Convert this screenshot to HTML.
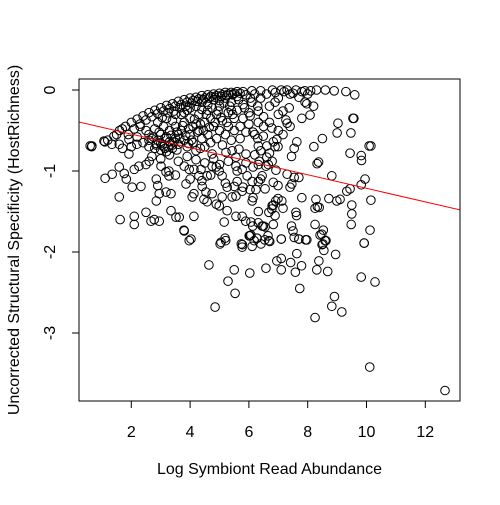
<!DOCTYPE html>
<html><head><meta charset="utf-8"><style>
body{margin:0;background:#fff}
svg{font-family:"Liberation Sans",sans-serif}
</style></head><body>
<svg id="chart" width="500" height="500">
<defs><clipPath id="clip"><rect x="79" y="79" width="381" height="322"/></clipPath></defs>
<rect x="0" y="0" width="500" height="500" fill="#fff"/>
<g id="points" clip-path="url(#clip)"></g>
<line id="fit" stroke="#ff0000" stroke-width="1" clip-path="url(#clip)"/>
<rect x="79" y="79" width="381" height="322" fill="none" stroke="#000"/>
<g id="xaxis"></g>
<g id="yaxis"></g>
<text x="269.5" y="474" text-anchor="middle" font-size="16">Log Symbiont Read Abundance</text>
<text transform="translate(19,240) rotate(-90)" text-anchor="middle" font-size="16">Uncorrected Structural Specificity (HostRichness)</text>
</svg>
<script>
const xTicks=[2,4,6,8,10,12];
const yTicks=[0,-1,-2,-3];
const fitIntercept=-0.377;
const fitSlope=-0.0837;
const ptsX=[0.6,0.65,1.1,1.2,1.5,1.6,1.8,2.0,2.2,2.4,2.6,2.8,3.0,3.2,3.4,3.6,3.8,4.0,4.2,4.4,4.6,4.8,5.0,5.2,5.4,5.6,5.8,6.1,6.4,6.8,7.1,7.3,7.6,7.9,8.3,8.6,8.9,9.3,9.6,
3.79,4.03,4.64,4.85,5.02,5.19,5.29,5.50,5.53,5.77,5.78,6.03,6.07,6.11,6.28,6.54,6.58,6.71,6.95,7.10,7.10,7.10,7.42,7.54,7.58,7.63,7.70,7.73,7.79,7.93,8.25,8.31,8.38,8.42,8.49,8.55,8.62,8.68,8.82,8.91,8.95,9.16,9.82,9.92,10.11,10.29,12.67,
8.08,7.16,7.37,7.26,7.30,6.78,9.03,9.0,9.47,9.54,9.57,10.09,10.15,8.21,7.63,7.54,7.45,7.16,6.95,6.83,9.44,9.82,9.83,8.32,8.37,8.82,9.95,9.82,9.44,9.33,10.15,9.5,9.5,9.48,10.12,9.92,8.72,8.99,9.1,8.28,8.33,8.25,8.39,8.25,8.53,8.48,8.59,8.52,7.80,7.60,7.62,7.45,7.70,7.97,7.10,7.5,7.16,6.99,7.12,6.83,6.78,6.89,6.83,6.55,6.65,6.49,6.32,6.32,6.04,6.27,6.11,6.04,6.14,6.55,6.32,6.83,6.99,6.92,7.30,7.46,7.54,7.70,7.40,6.61,6.32,6.14,6.66,6.32,6.61,6.89,6.99,6.49,6.14,6.32,6.04,6.32,6.89,7.97,7.91,7.70,7.40,
0.66,1.07,1.34,1.59,1.41,1.92,2.19,1.69,1.11,1.35,1.59,1.76,1.83,1.59,1.62,2.03,2.33,2.10,2.10,2.50,1.92,2.26,2.10,2.50,2.61,2.85,2.90,2.95,2.85,2.78,2.95,2.67,3.35,3.52,3.63,3.80,3.97,4.13,3.86,4.07,4.13,3.28,3.01,3.18,3.28,3.18,3.35,4.41,4.54,4.47,4.58,4.75,4.89,4.99,5.09,5.43,5.56,5.26,5.56,5.77,5.89,6.07,6.13,6.45,6.68,6.79,6.91,5.16,5.05,5.21,5.74,6.01,6.18,6.41,6.68,3.80,3.97,4.13,4.37,4.75,4.89,4.99,5.09,5.56,5.77,5.94,6.11,6.24,6.45,6.58,6.79,6.35,5.60,5.50,5.26,5.77,4.58,4.30,5.22,5.43,5.66,5.56,5.90,4.75,
2.3,2.5,2.6,2.7,2.8,2.9,3.0,3.0,3.1,3.1,3.2,3.3,3.3,3.4,3.4,3.5,3.5,3.6,3.6,3.7,3.7,3.8,3.8,3.9,3.9,4.0,4.0,4.1,4.1,4.2,4.2,4.3,4.3,4.4,4.4,4.5,4.5,4.6,4.6,4.7,4.7,4.8,4.8,4.9,4.9,5.0,5.0,5.1,5.1,5.2,5.2,5.3,5.3,5.4,5.4,5.5,5.5,5.6,5.6,5.7,5.7,5.8,5.8,5.9,5.9,6.0,6.0,6.1,6.2,6.2,6.3,6.4,6.5,6.6,6.7,6.9,7.0,7.2,7.5,7.8,8.1,8.0,
1.9,2.1,2.3,2.5,2.7,2.9,3.1,3.3,3.5,3.7,3.9,4.1,4.3,4.5,4.7,4.9,5.1,5.3,5.5,5.7,2.4,2.6,2.8,3.0,3.2,3.4,2.2,2.0,1.7,2.9,3.2,3.5,3.8,4.0,4.4,4.6,5.0,5.4,4.2,
3.0,3.3,3.6,3.9,4.2,4.5,4.8,5.0,5.3,5.6,5.9,6.2,6.4,6.7,3.5,4.0,4.4,4.7,5.2,5.8,6.4,2.7,
6.3,6.5,6.7,7.0,7.4,7.8,8.2,8.5,7.0,
2.6,2.75,2.85,2.95,3.05,3.15,3.25,3.35,3.45,3.55,3.65,3.75,3.85,3.95,4.05,4.15,4.25,4.35,4.45,4.55,4.65,4.75,4.85,4.95,5.05,5.15,5.25,5.35,5.45,5.65,5.85,6.05,3.05,3.25,3.45,3.65,3.85,4.05,4.25,4.45,4.65,4.85,5.05,5.25,5.45,2.85,3.15,3.55,3.95,4.35];
const ptsY=[-0.69,-0.7,-0.64,-0.62,-0.55,-0.5,-0.45,-0.4,-0.36,-0.32,-0.28,-0.25,-0.22,-0.19,-0.17,-0.14,-0.12,-0.1,-0.09,-0.07,-0.06,-0.05,-0.04,-0.03,-0.03,-0.02,-0.02,-0.01,-0.01,0,0,0,0,-0.01,0,0,-0.01,-0.02,-0.06,
-1.73,-1.84,-2.16,-2.68,-1.90,-1.83,-2.36,-2.22,-2.51,-1.94,-1.91,-2.26,-1.79,-1.93,-1.83,-1.85,-2.20,-1.87,-2.11,-1.84,-2.08,-2.22,-2.13,-1.82,-2.25,-2.02,-1.84,-2.45,-2.17,-1.85,-2.81,-2.22,-2.11,-1.79,-1.91,-1.98,-1.86,-2.24,-2.67,-2.55,-2.03,-2.74,-2.31,-1.89,-3.42,-2.37,-3.71,
-0.31,-0.26,-0.22,-0.37,-0.41,-0.47,-0.41,-0.53,-0.53,-0.35,-0.35,-0.69,-0.69,-0.70,-0.64,-0.72,-0.82,-0.55,-0.61,-0.64,-0.78,-0.81,-0.87,-0.91,-0.89,-1.06,-1.10,-1.17,-1.22,-1.25,-1.36,-1.42,-1.53,-1.66,-1.73,-1.89,-1.34,-1.37,-1.35,-1.35,-1.44,-1.46,-1.45,-1.66,-1.73,-1.78,-1.86,-1.90,-1.33,-1.51,-1.55,-1.68,-1.84,-1.85,-1.84,-1.74,-1.46,-1.34,-1.37,-1.42,-1.47,-1.55,-1.66,-1.69,-1.80,-1.68,-1.50,-1.64,-1.80,-1.83,-1.37,-1.23,-1.33,-1.22,-1.13,-1.14,-1.18,-0.99,-1.04,-1.16,-1.08,-1.08,-1.20,-0.83,-0.92,-0.95,-0.92,-0.69,-0.69,-0.70,-0.70,-0.57,-0.52,-0.40,-0.32,-0.26,-0.15,-0.17,-0.15,-0.09,-0.05,
-0.69,-0.63,-0.67,-0.67,-0.57,-0.61,-0.67,-0.48,-1.09,-1.04,-0.95,-1.03,-1.10,-1.32,-1.60,-1.20,-1.19,-1.56,-1.66,-1.51,-0.79,-0.94,-0.98,-0.92,-0.88,-1.10,-1.18,-1.28,-1.37,-1.60,-1.62,-1.62,-1.49,-1.57,-1.57,-1.74,-1.86,-1.56,-1.16,-1.32,-1.28,-1.00,-0.94,-1.01,-1.06,-1.26,-1.28,-1.19,-1.26,-1.35,-1.38,-1.28,-1.41,-1.43,-1.32,-1.32,-1.31,-1.49,-1.56,-1.56,-1.62,-1.63,-1.68,-1.68,-1.51,-1.43,-1.37,-1.63,-1.88,-1.86,-1.90,-1.80,-1.86,-1.90,-1.86,-0.94,-0.98,-0.98,-0.98,-0.94,-0.95,-1.00,-1.06,-0.94,-0.98,-1.06,-1.13,-1.23,-1.06,-0.94,-0.88,-0.88,-1.13,-1.19,-1.20,-1.25,-1.06,-1.06,-0.77,-0.75,-0.73,-0.83,-0.79,-0.79,
-0.45,-0.5,-0.55,-0.6,-0.48,-0.62,-0.55,-0.66,-0.45,-0.7,-0.58,-0.5,-0.64,-0.38,-0.72,-0.6,-0.45,-0.55,-0.67,-0.3,-0.5,-0.62,-0.4,-0.7,-0.25,-0.55,-0.35,-0.45,-0.65,-0.2,-0.75,-0.5,-0.3,-0.6,-0.15,-0.4,-0.7,-0.25,-0.55,-0.35,-0.65,-0.45,-0.12,-0.3,-0.6,-0.2,-0.5,-0.38,-0.68,-0.1,-0.55,-0.28,-0.45,-0.62,-0.15,-0.35,-0.5,-0.08,-0.25,-0.45,-0.6,-0.18,-0.35,-0.52,-0.06,-0.28,-0.42,-0.15,-0.05,-0.55,-0.2,-0.1,-0.33,-0.05,-0.2,-0.03,-0.1,-0.02,-0.04,-0.02,-0.01,-0.05,
-0.55,-0.48,-0.42,-0.37,-0.33,-0.29,-0.26,-0.23,-0.2,-0.18,-0.15,-0.13,-0.11,-0.1,-0.08,-0.07,-0.06,-0.05,-0.04,-0.04,-0.65,-0.7,-0.72,-0.74,-0.76,-0.68,-0.58,-0.7,-0.72,-0.4,-0.35,-0.3,-0.28,-0.22,-0.24,-0.18,-0.13,-0.25,-0.42,
-0.85,-0.8,-0.88,-0.82,-0.86,-0.9,-0.85,-0.92,-0.88,-1.0,-0.9,-0.8,-0.75,-0.78,-1.05,-1.1,-1.12,-1.05,-1.15,-1.2,-1.1,-0.82,
-0.6,-0.45,-0.4,-0.3,-0.45,-0.35,-0.2,-0.6,-0.5,
-0.62,-0.58,-0.66,-0.52,-0.68,-0.6,-0.7,-0.56,-0.64,-0.52,-0.6,-0.44,-0.56,-0.48,-0.62,-0.36,-0.52,-0.42,-0.5,-0.3,-0.46,-0.22,-0.4,-0.26,-0.34,-0.16,-0.4,-0.2,-0.3,-0.12,-0.22,-0.1,-0.34,-0.28,-0.26,-0.22,-0.2,-0.16,-0.14,-0.12,-0.1,-0.09,-0.08,-0.07,-0.06,-0.68,-0.72,-0.74,-0.66,-0.72];

const NS='http://www.w3.org/2000/svg';
function sx(v){return 72.5+v*29.4;}
function sy(v){return 90-v*81;}

const gp=document.getElementById('points');
for(let i=0;i<ptsX.length;i++){
  const c=document.createElementNS(NS,'circle');
  c.setAttribute('cx',sx(ptsX[i]));c.setAttribute('cy',sy(ptsY[i]));
  c.setAttribute('r',4.3);c.setAttribute('fill','none');c.setAttribute('stroke','#000');c.setAttribute('stroke-width','1');
  
  
  gp.appendChild(c);
}
const fit=document.getElementById('fit');
const fx0=0,fx1=14;
fit.setAttribute('x1',sx(fx0));fit.setAttribute('y1',sy(fitIntercept+fitSlope*fx0));
fit.setAttribute('x2',sx(fx1));fit.setAttribute('y2',sy(fitIntercept+fitSlope*fx1));

const gx=document.getElementById('xaxis');
xTicks.forEach(t=>{
  const l=document.createElementNS(NS,'line');
  l.setAttribute('x1',sx(t));l.setAttribute('x2',sx(t));l.setAttribute('y1',401);l.setAttribute('y2',408);l.setAttribute('stroke','#000');
  
  
  gx.appendChild(l);
  const tx=document.createElementNS(NS,'text');
  tx.setAttribute('x',sx(t));tx.setAttribute('y',437);tx.setAttribute('text-anchor','middle');tx.setAttribute('font-size','16');
  tx.textContent=t;
  
  
  gx.appendChild(tx);
});
const gy=document.getElementById('yaxis');
yTicks.forEach(t=>{
  const l=document.createElementNS(NS,'line');
  l.setAttribute('x1',72);l.setAttribute('x2',79);l.setAttribute('y1',sy(t));l.setAttribute('y2',sy(t));l.setAttribute('stroke','#000');
  
  
  gy.appendChild(l);
  const tx=document.createElementNS(NS,'text');
  tx.setAttribute('transform','translate(55,'+sy(t)+') rotate(-90)');tx.setAttribute('text-anchor','middle');tx.setAttribute('font-size','16');
  tx.textContent=t;
  
  
  gy.appendChild(tx);
});
</script>
</body></html>
